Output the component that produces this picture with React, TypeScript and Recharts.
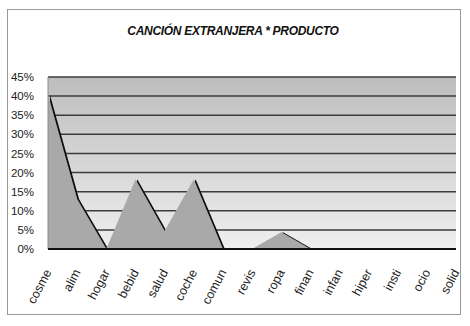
import { AreaChart, Area, XAxis, YAxis, CartesianGrid } from 'recharts'

// product categories along the x axis
const productos = [
  'cosme', 'alim', 'hogar', 'bebid', 'salud', 'coche', 'comun', 'revis',
  'ropa', 'finan', 'infan', 'hiper', 'insti', 'ocio', 'solid',
]

// share of "canción extranjera" per product, in percent
const porcentajes = [40.3, 13, 0, 18.2, 4.7, 18.2, 0, 0, 4.4, 0, 0, 0, 0, 0, 0]

const yTicks = [0, 5, 10, 15, 20, 25, 30, 35, 40, 45]

const data = productos.map((p, i) => ({ producto: p, valor: porcentajes[i] }))

const font = '"Liberation Sans", Arial, sans-serif'

export default function App() {
  return (
    <div style={{ position: 'absolute', left: 0, top: 0, width: 470, height: 326, background: '#fff' }}>
      <style>{`.recharts-area-area { filter: url(#edge); }`}</style>
      <div
        style={{
          position: 'absolute', left: 7, top: 9, width: 452, height: 304,
          border: '1px solid #9a9a9a',
        }}
      />
      <div
        style={{
          position: 'absolute', left: 0, top: 24, width: 466, textAlign: 'center',
          fontFamily: font, fontSize: 12, fontWeight: 'bold', fontStyle: 'italic', color: '#111',
          letterSpacing: -0.3,
        }}
      >
        CANCIÓN EXTRANJERA * PRODUCTO
      </div>
      <AreaChart
        width={470}
        height={326}
        data={data}
        margin={{ top: 77, right: 14, left: 8, bottom: 17 }}
        style={{ position: 'absolute', left: 0, top: 0 }}
      >
        <defs>
          <linearGradient id="bg" x1="0" y1="0" x2="0" y2="1">
            <stop offset="0%" stopColor="#bdbdbd" />
            <stop offset="100%" stopColor="#efefef" />
          </linearGradient>
          <filter id="edge" x="-5%" y="-5%" width="110%" height="110%">
            <feDropShadow dx="2" dy="0" stdDeviation="0.3" floodColor="#111" floodOpacity="1" />
          </filter>
        </defs>
        <CartesianGrid vertical={false} stroke="#3c3c3c" strokeWidth={1.5} fill="url(#bg)" fillOpacity={1} />
        <YAxis
          domain={[0, 45]}
          ticks={yTicks}
          interval={0}
          width={40}
          tickLine={false}
          axisLine={{ stroke: '#8a8a8a' }}
          tickFormatter={(v) => `${v}%`}
          tick={{ fontSize: 11.5, fill: '#222', fontFamily: font }}
          tickMargin={8}
        />
        <Area
          type="linear"
          dataKey="valor"
          fill="#a9a9a9"
          fillOpacity={1}
          stroke="none"
          isAnimationActive={false}
        />
        <XAxis
          dataKey="producto"
          height={60}
          interval={0}
          tickLine={false}
          axisLine={{ stroke: '#111', strokeWidth: 2 }}
          angle={-62}
          textAnchor="end"
          tick={{ fontSize: 12.5, fill: '#222', fontFamily: font, dx: -4 }}
          tickMargin={13}
        />
      </AreaChart>
    </div>
  )
}
